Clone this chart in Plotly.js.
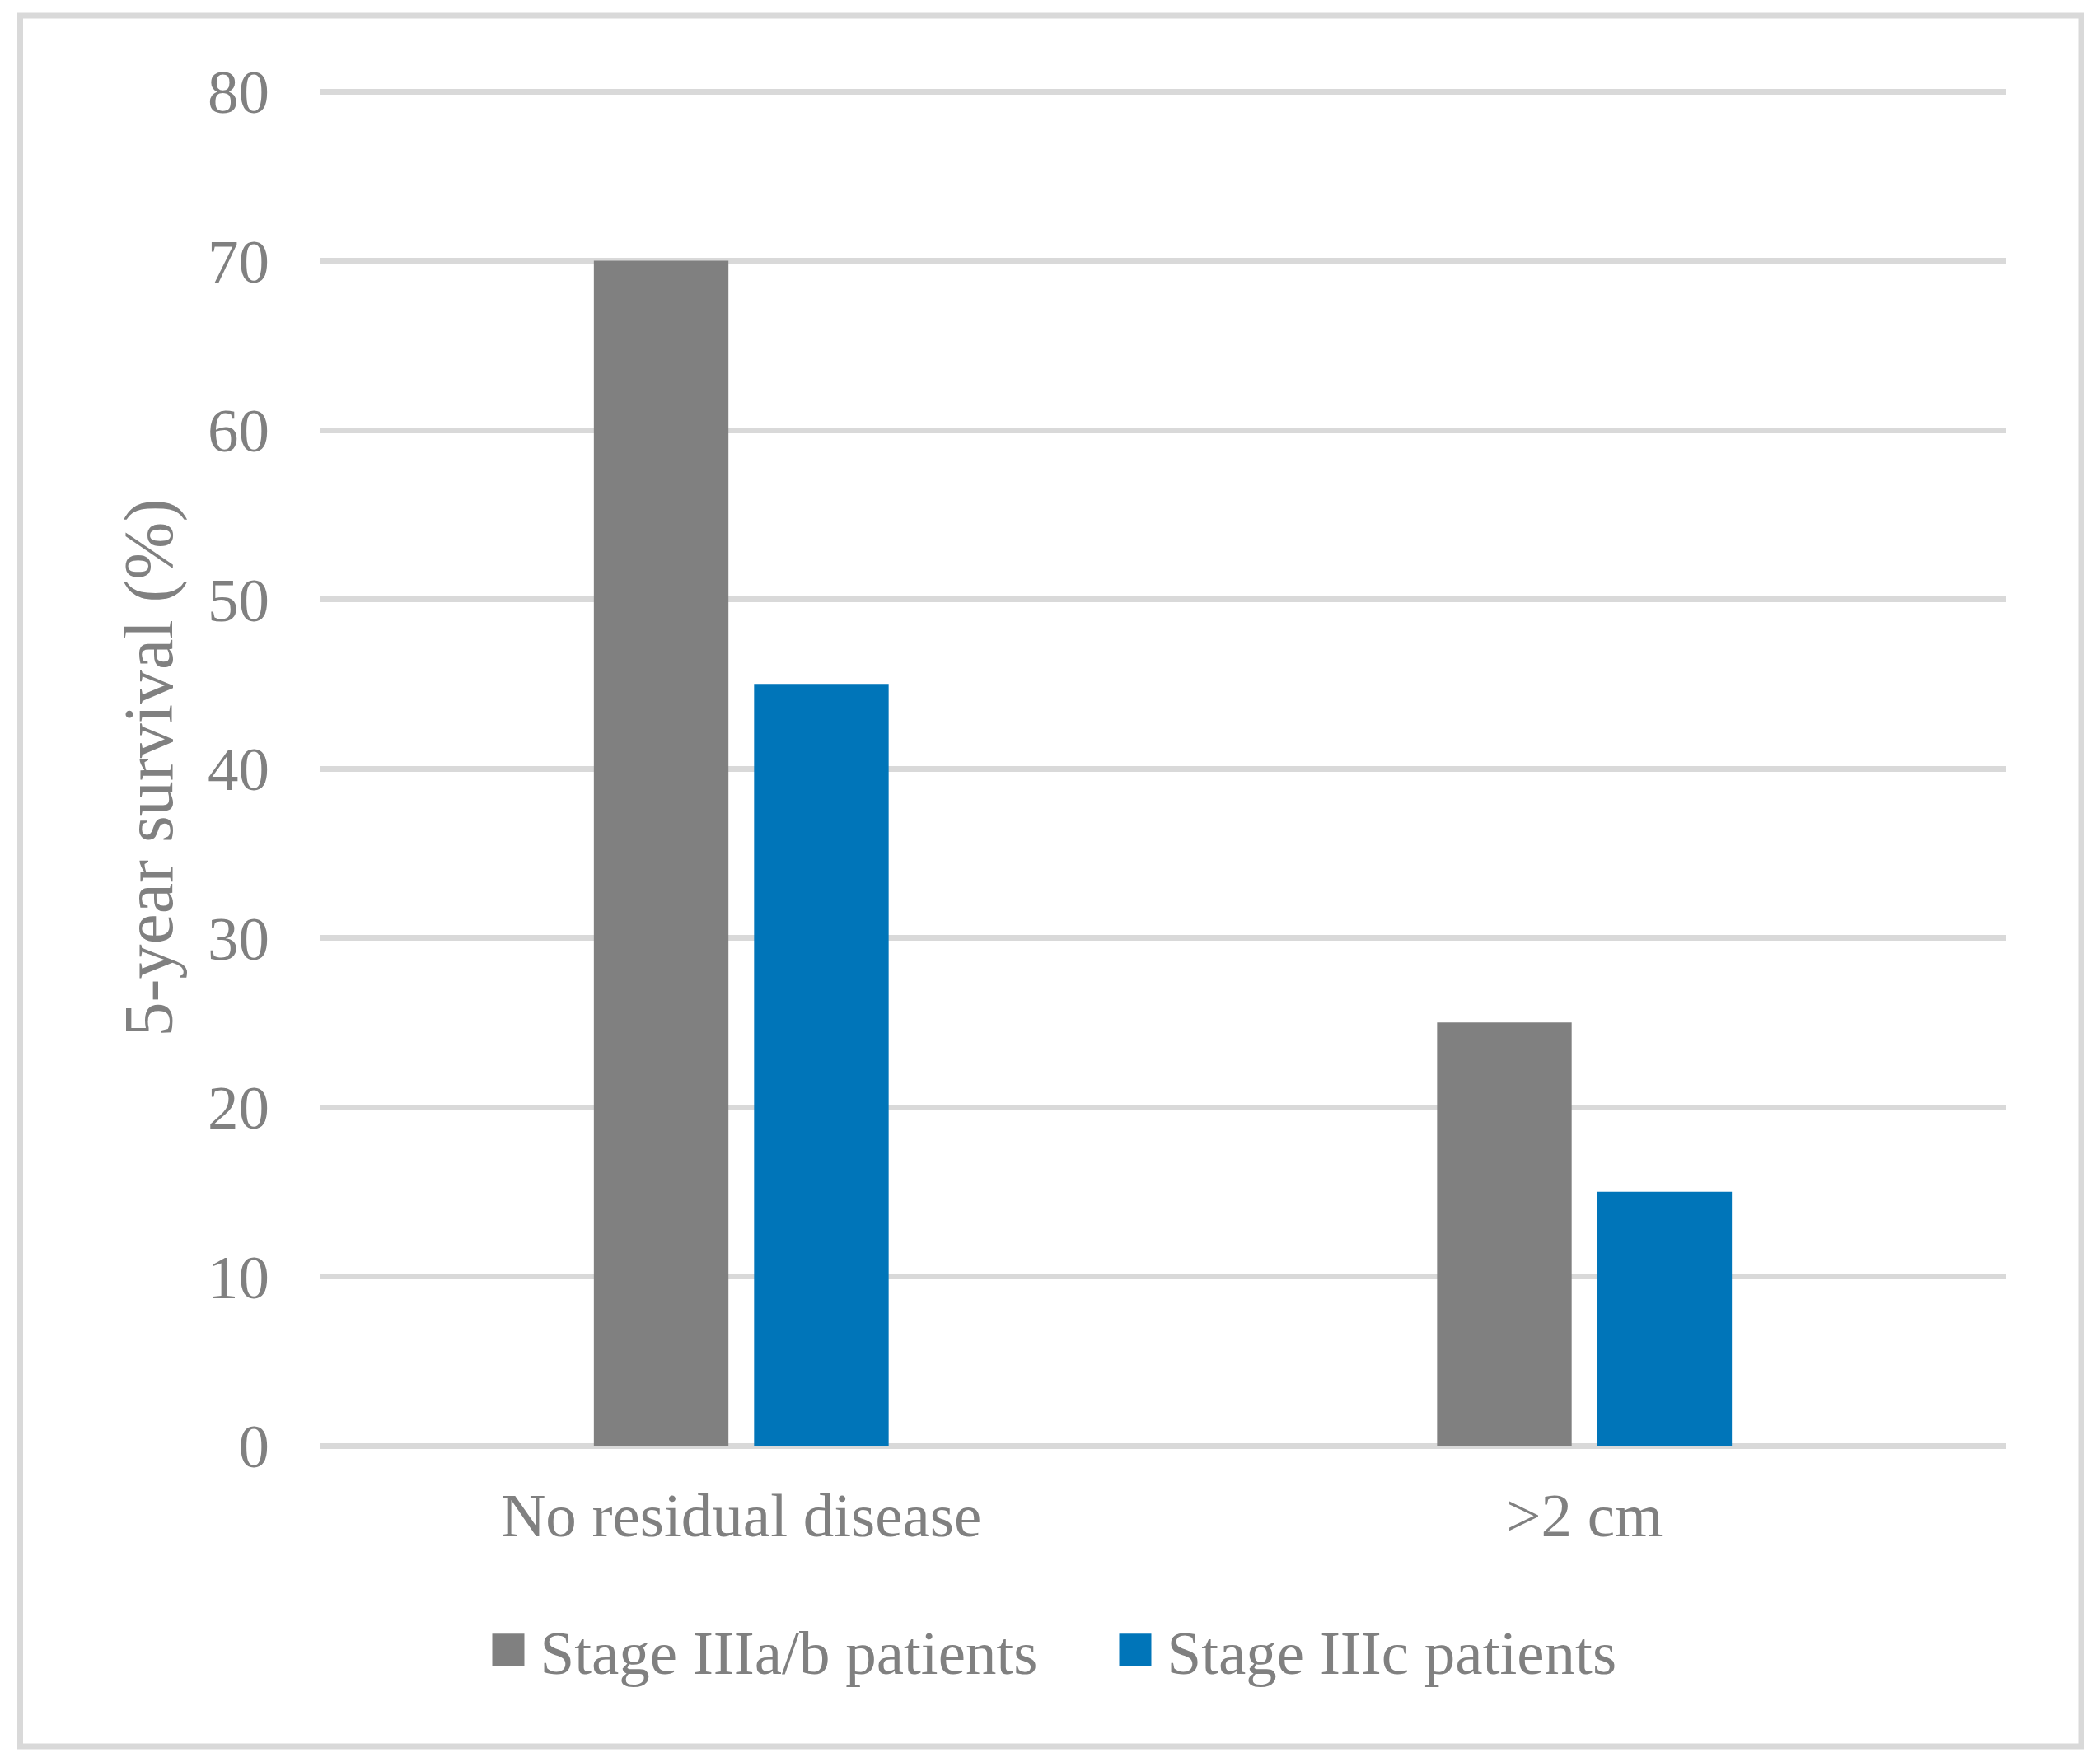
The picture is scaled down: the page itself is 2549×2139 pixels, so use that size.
<!DOCTYPE html>
<html>
<head>
<meta charset="utf-8">
<script src="https://cdn.plot.ly/plotly-3.0.1.min.js"></script>
<style>
  html, body { margin: 0; padding: 0; background: #ffffff; }
  #chart { width: 2549px; height: 2139px; }
</style>
</head>
<body>
<div id="chart"></div>
<script>
// ---- data ----
var categories = ["No residual disease", ">2 cm"];
var seriesNames = ["Stage IIIa/b patients", "Stage IIIc patients"];
var stageIIIab = [70, 25];
var stageIIIc = [45, 15];
var yTickValues = [0, 10, 20, 30, 40, 50, 60, 70, 80];
var yTitle = "5-year survival (%)";

var textColor = "#808080";
var fontFamily = "'Liberation Serif', 'Times New Roman', serif";

var traces = [
  {
    type: "bar",
    name: seriesNames[0],
    x: categories,
    y: stageIIIab,
    marker: { color: "#808080", line: { width: 0 } },
    hoverinfo: "x+y+name"
  },
  {
    type: "bar",
    name: seriesNames[1],
    x: categories,
    y: stageIIIc,
    marker: { color: "#0075B9", line: { width: 0 } },
    hoverinfo: "x+y+name"
  }
];

var plotTop = 109, plotBottom = 1755.5, plotLeft = 388, plotRight = 2435;
var pw = plotRight - plotLeft, ph = plotBottom - plotTop;

var layout = {
  width: 2549,
  height: 2139,
  paper_bgcolor: "#ffffff",
  plot_bgcolor: "#ffffff",
  margin: { l: plotLeft, r: 2549 - plotRight, t: plotTop, b: 2139 - plotBottom, pad: 0 },
  barmode: "group",
  bargap: 0.62,
  bargroupgap: 0.16,
  font: { family: fontFamily, size: 75, color: textColor },
  xaxis: {
    type: "category",
    showgrid: false,
    showline: false,
    zeroline: false,
    ticks: "",
    ticklabelstandoff: 34,
    tickfont: { family: fontFamily, size: 75, color: textColor },
    automargin: false
  },
  yaxis: {
    range: [0, 80.1],
    tickvals: yTickValues,
    showgrid: true,
    gridcolor: "#D9D9D9",
    gridwidth: 7,
    zeroline: true,
    zerolinecolor: "#D9D9D9",
    zerolinewidth: 7,
    showline: false,
    ticks: "",
    ticklabelstandoff: 60,
    tickfont: { family: fontFamily, size: 75, color: textColor },
    automargin: false,
    title: {
      text: yTitle,
      font: { family: fontFamily, size: 84, color: textColor },
      standoff: 14
    }
  },
  legend: {
    orientation: "h",
    xref: "container",
    yref: "container",
    x: 0.5255,
    xanchor: "center",
    y: 1 - 2003 / 2139,
    yanchor: "middle",
    font: { family: fontFamily, size: 75, color: textColor },
    itemwidth: 67,
    entrywidth: 679,
    bgcolor: "rgba(0,0,0,0)",
    itemclick: false,
    itemdoubleclick: false
  },
  shapes: [
    {
      type: "rect",
      xref: "paper",
      yref: "paper",
      x0: (24.5 - plotLeft) / pw,
      x1: (2526 - plotLeft) / pw,
      y0: (plotBottom - 2120.5) / ph,
      y1: (plotBottom - 19) / ph,
      line: { color: "#D9D9D9", width: 7 },
      fillcolor: "rgba(0,0,0,0)",
      layer: "below"
    }
  ],
  showlegend: true
};

Plotly.newPlot("chart", traces, layout, { displayModeBar: false }).then(function () {
  var paths = document.querySelectorAll(".legend .legendpoints path");
  paths.forEach(function (p) {
    p.setAttribute("d", "M19.5,19.5H-19.5V-19.5H19.5Z");
  });
});
</script>
</body>
</html>
